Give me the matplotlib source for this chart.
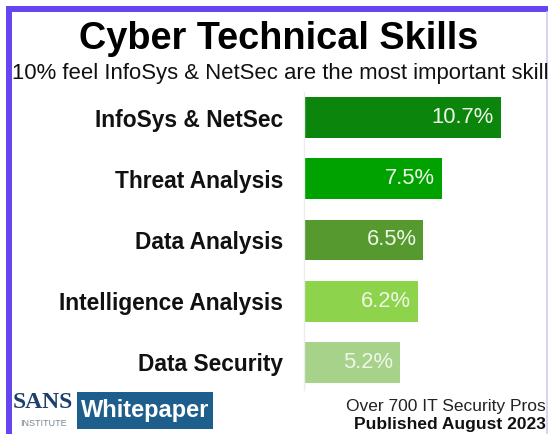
import matplotlib.pyplot as plt
from matplotlib.patches import Rectangle
from matplotlib.lines import Line2D

skills = ['InfoSys & NetSec', 'Threat Analysis', 'Data Analysis',
          'Intelligence Analysis', 'Data Security']
pct = [10.7, 7.5, 6.5, 6.2, 5.2]
bar_colors = ['#0b850b', '#00a200', '#55992f', '#8ed34c', '#a6d28a']

plt.rcParams['font.family'] = ['Liberation Sans', 'DejaVu Sans']

W, H = 550, 434
fig = plt.figure(figsize=(W / 100, H / 100), dpi=100)
fig.patch.set_facecolor('white')

def fx(px):
    return px / W

def fy(py):
    return 1 - py / H

# purple frame
purple = '#6546ee'
fig.add_artist(Line2D([fx(9), fx(9)], [fy(9), fy(440)], color=purple, lw=4.3,
                      solid_capstyle='butt'))
fig.add_artist(Line2D([fx(6), fx(548)], [fy(9), fy(9)], color=purple, lw=4.3,
                      solid_capstyle='butt'))
fig.add_artist(Line2D([fx(547), fx(547)], [fy(12), fy(440)], color='#d4c8f4', lw=1.2))

# titles
fig.text(fx(279), fy(39), 'Cyber Technical Skills', ha='center', va='center',
         fontsize=27.3, fontweight='bold', color='black')
fig.text(fx(280), fy(74), '10% feel InfoSys & NetSec are the most important skill',
         ha='center', va='center', fontsize=15.9, color='#111111')

# bar chart
ax = fig.add_axes([fx(304), fy(390), fx(524.6) - fx(304), (390 - 92) / H])
y = list(range(len(skills)))
ax.barh(y, pct, height=0.67, color=bar_colors)
ax.set_xlim(0, 12)
ax.set_ylim(4.455, -0.422)
for spine in ['top', 'right', 'bottom']:
    ax.spines[spine].set_visible(False)
ax.spines['left'].set_color('#ececec')
ax.spines['left'].set_linewidth(1)
ax.set_xticks([])
ax.set_yticks(y)
ax.set_yticklabels(skills, fontsize=16.4, fontweight='bold', color='#111111')
ax.tick_params(axis='y', length=0, pad=15)
ax.set_facecolor('none')
for i, v in enumerate(pct):
    ax.text(v - 0.38, i, f'{v}%', ha='right', va='center', fontsize=15.8,
            color='#eef7e8')

# footer: SANS logo and Whitepaper badge
fig.text(fx(43), fy(403), 'SANS', ha='center', va='center', fontsize=17,
         family='Liberation Serif', color='#1d3f6e', fontweight='bold')
fig.text(fx(43), fy(423), 'INSTITUTE', ha='center', va='center', fontsize=6.5,
         color='#7a8590')
fig.add_artist(Rectangle((fx(77), fy(429)), fx(213) - fx(77), (429 - 392) / H,
                         facecolor='#1d5e8c', edgecolor='none'))
fig.text(fx(145), fy(410), 'Whitepaper', ha='center', va='center', fontsize=17,
         fontweight='bold', color='white')

fig.text(fx(546), fy(407), 'Over 700 IT Security Pros', ha='right', va='center',
         fontsize=12.5, color='#222222')
fig.text(fx(546), fy(424), 'Published August 2023', ha='right', va='center',
         fontsize=12.5, fontweight='bold', color='#111111')

fig.savefig('out.png', dpi=100)
